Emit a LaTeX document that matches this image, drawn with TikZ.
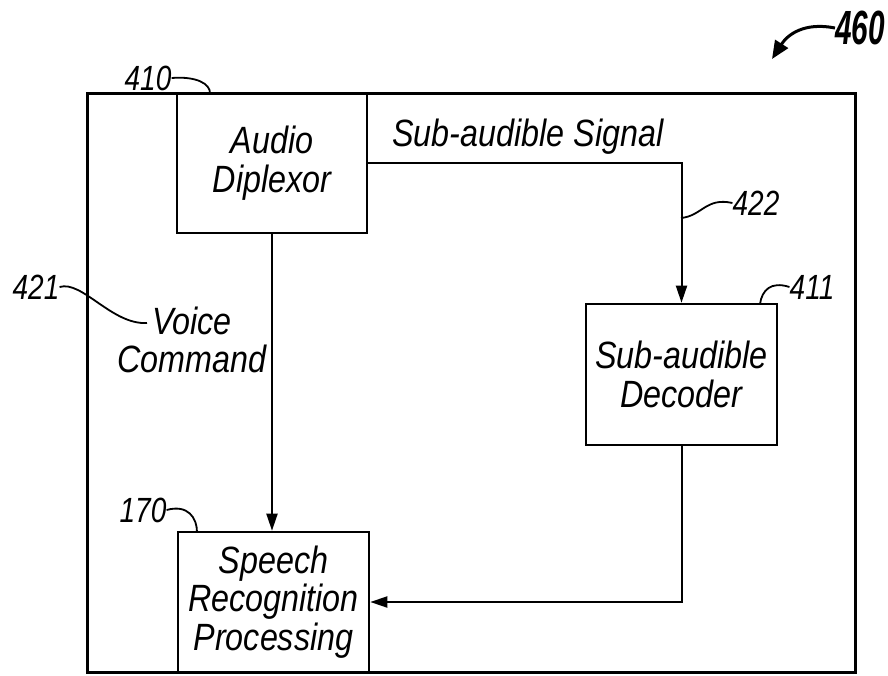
\documentclass[tikz,border=0pt]{standalone}
\usepackage{fontspec}
\setmainfont{Liberation Sans}[FakeStretch=0.85]
\newfontfamily\labfont{Liberation Sans}[FakeStretch=0.8]
\newfontfamily\numfont{Liberation Sans}[FakeStretch=0.62]
\usetikzlibrary{arrows.meta}
\begin{document}
\begin{tikzpicture}[x=1pt,y=-1pt,
  txt/.style={font=\fontsize{38}{38.5}\selectfont\itshape, align=center, inner sep=0pt},
  blk/.style={draw, line width=2.6pt, minimum width=#1, inner sep=0pt, txt},
  num/.style={font=\fontsize{35}{38}\selectfont\labfont\itshape, inner sep=0pt},
  conn/.style={line width=2pt, -{Triangle[length=17pt,width=11pt]}},
  lead/.style={line width=1.8pt}]
\useasboundingbox (0,0) rectangle (888,675);
% outer frame
\node[draw, line width=3pt, minimum width=768pt, minimum height=579pt, inner sep=0pt] (frame) at (471,382.5) {};
% blocks
\node[blk=190pt, minimum height=140pt] (dip) at (272,163) {Audio\\Diplexor};
\node[blk=191pt, minimum height=141pt] (dec) at (681.5,374.5) {Sub-audible\\Decoder};
\node[blk=191pt, minimum height=140pt] (spr) at (273.5,602) {Speech\\Recognition\\Processing};
% connectors
\draw[conn] (dip.east) -| (dec.north);
\draw[conn] (dip.south) -- (dip.south |- spr.north);
\draw[conn] (dec.south) |- (spr.east);
% connector labels
\node[txt] (sig) at (528,137) {Sub-audible Signal};
\node[txt] (vc) at (192,340) {Voice\\Command};
% reference numerals
\node[num] (n410) at (148,78) {410};
\node[num] (n170) at (143,510) {170};
\node[num] (n421) at (36,287) {421};
\node[num] (n422) at (756,203) {422};
\node[num] (n411) at (812,287) {411};
\node[font=\fontsize{48}{52}\selectfont\numfont\bfseries\itshape, inner sep=0pt] (n460) at (860,28) {460};
% leader end points
\coordinate (e410) at (210,93);
\coordinate (e170) at (197,532);
\coordinate (e421) at (147,323);
\coordinate (e422) at (681,218);
\coordinate (e411) at (760,304);
\coordinate (e460) at (772,59);
% leaders
\draw[lead] (n410.east) .. controls (197,76) and (210,84) .. (e410);
\draw[lead] (n170.east) .. controls (188,504) and (197,518) .. (e170);
\draw[lead] (n421.east) .. controls (82,280) and (112,325) .. (e421);
\draw[lead] (e422) .. controls (702,216) and (706,197) .. (n422.west);
\draw[lead] (e411) .. controls (762,290) and (771,281) .. (n411.west);
\draw[line width=3pt, -{Triangle[length=18pt,width=15pt]}] (n460.west) .. controls (805,22) and (788,34) .. (e460);
\end{tikzpicture}
\end{document}
